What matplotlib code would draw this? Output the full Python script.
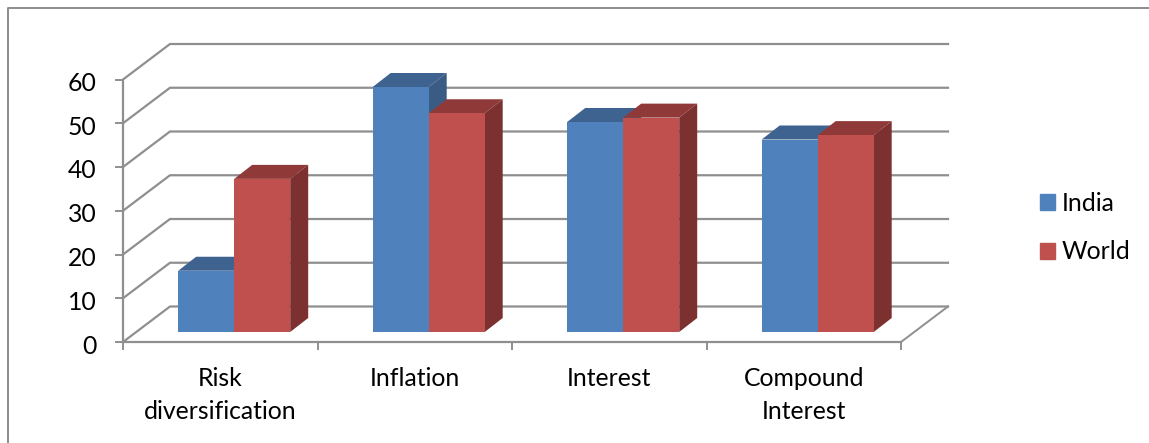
import matplotlib
matplotlib.use('Agg')
import matplotlib.pyplot as plt
from matplotlib.patches import Patch
from matplotlib.transforms import ScaledTranslation

plt.rcParams['font.family'] = ['Lato', 'DejaVu Sans']

# Chart data
categories = ['Risk\ndiversification', 'Inflation', 'Interest', 'Compound\nInterest']
india = [14, 56, 48, 44]
world = [35, 50, 49, 45]
y_ticks = [0, 10, 20, 30, 40, 50, 60]

# Colours
GRID = '#8f8f8f'
BLUE = ('#4f81bd', '#3e6390', '#395b84')
RED = ('#c0504d', '#8f3a38', '#7d3030')

W, H = 1149, 443
fig = plt.figure(figsize=(W / 100, H / 100), dpi=100)
# The axes box is the front plane of the fake 3D chart
ax = fig.add_axes([123 / W, (H - 342) / H, 778 / W, 262.5 / H])
ax.set_xlim(0, 4)
ax.set_ylim(0, 60)
ax.patch.set_alpha(0)

# Depth of the back wall and of the bars, in data units
wall_dx = 47 / 194.5
wall_dy = 35.5 / 4.375
bar_dx = 18 / 194.5
bar_dy = 14 / 4.375
bar_w = 56 / 194.5
bar_start = 55.2 / 194.5
lift = 10 / 4.375

# Walls and gridlines
for v in y_ticks:
    ax.plot([0, wall_dx, 4 + wall_dx], [v, v + wall_dy, v + wall_dy],
            color=GRID, lw=1.6, clip_on=False, zorder=1, solid_joinstyle='miter')
ax.plot([4, 4 + wall_dx], [0, wall_dy], color=GRID, lw=1.4, clip_on=False, zorder=1)


def draw_bar(x, value, colours, z):
    front, top, side = colours
    y0, y1 = lift, lift + value
    x1 = x + bar_w
    ax.fill([x, x + bar_dx, x1 + bar_dx, x1],
            [y1, y1 + bar_dy, y1 + bar_dy, y1], color=top, lw=0, clip_on=False, zorder=z)
    ax.fill([x1, x1 + bar_dx, x1 + bar_dx, x1],
            [y0, y0 + bar_dy, y1 + bar_dy, y1], color=side, lw=0, clip_on=False, zorder=z)
    ax.bar(x, value, width=bar_w, bottom=y0, align='edge', color=front,
           lw=0, clip_on=False, zorder=z + 0.5)


for i in range(len(categories)):
    draw_bar(i + bar_start, india[i], BLUE, 3 + i)
    draw_bar(i + bar_start + bar_w, world[i], RED, 3.6 + i)

# Axes, ticks and labels
for name in ['top', 'right']:
    ax.spines[name].set_visible(False)
for name in ['left', 'bottom']:
    ax.spines[name].set_color(GRID)
    ax.spines[name].set_linewidth(1.6)
    ax.spines[name].set_zorder(2)

ax.set_yticks(y_ticks)
ax.set_xticks([0, 1, 2, 3, 4])
ax.set_xticklabels([])
ax.set_xticks([0.5, 1.5, 2.5, 3.5], minor=True)
ax.set_xticklabels(categories, minor=True, linespacing=1.55)
ax.tick_params(axis='y', labelsize=17.8, color=GRID, width=1.4, length=6, pad=13, labelcolor='black')
ax.tick_params(axis='x', which='major', color=GRID, width=1.4, length=6)
ax.tick_params(axis='x', which='minor', length=0, labelsize=17.8, pad=18, labelcolor='black')

# Nudge the value labels down a little
nudge = ScaledTranslation(0, -2 / 100, fig.dpi_scale_trans)
for label in ax.get_yticklabels():
    label.set_transform(label.get_transform() + nudge)

# Legend
handles = [Patch(color=BLUE[0], label='India'), Patch(color=RED[0], label='World')]
fig.legend(handles=handles, loc='center left', bbox_to_anchor=(1040 / W, (H - 227.5) / H),
           frameon=False, fontsize=17.8, handlelength=0.6, handleheight=0.6,
           handletextpad=0.28, labelspacing=1.05, borderpad=0, borderaxespad=0)

# Chart border: only the top and left edges show
fig.add_artist(plt.Line2D([8 / W, 8 / W, 1], [0, (H - 8) / H, (H - 8) / H],
                          color='#8c8c8c', lw=1.4))

fig.savefig('out.png', dpi=100)
